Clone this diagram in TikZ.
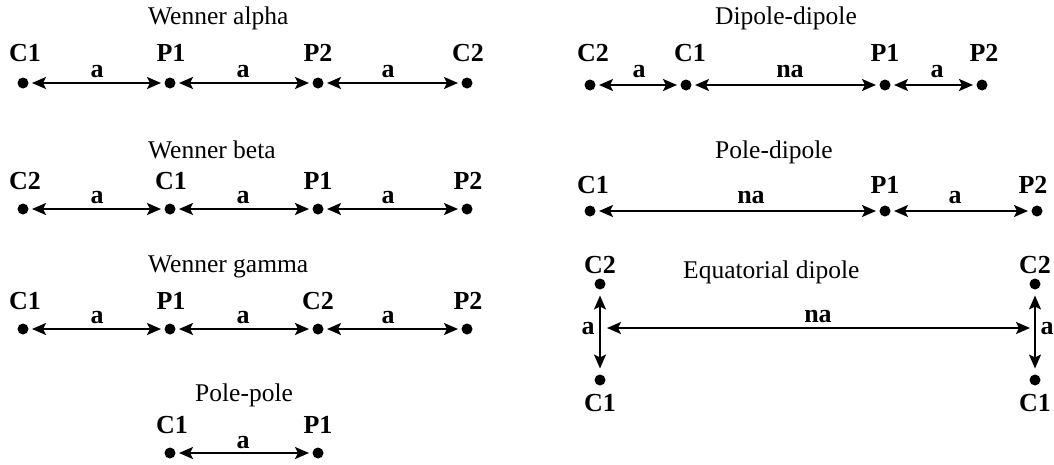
\documentclass[tikz,border=0pt]{standalone}
\usepackage{fontspec}
\setmainfont{Liberation Serif}
\usetikzlibrary{arrows.meta}
\tikzset{
  dot/.style={circle,fill=black,inner sep=0pt,minimum size=11pt,outer sep=0pt},
  elab/.style={font=\fontsize{26}{30}\selectfont\bfseries,anchor=base,inner sep=0pt},
  dlab/.style={font=\fontsize{26}{30}\selectfont\bfseries,anchor=base,inner sep=0pt},
  ttl/.style={font=\fontsize{25.5}{30}\selectfont,anchor=west,inner sep=0pt},
  dim/.style={line width=2pt,{Stealth[length=14pt,width=12pt,inset=3pt]}-{Stealth[length=14pt,width=12pt,inset=3pt]},shorten <=3.5pt,shorten >=3.5pt},
}
\begin{document}
\begin{tikzpicture}[x=1pt,y=-1pt]
\useasboundingbox[fill=white] (0,0) rectangle (1054,464);
% ---------- Wenner alpha
\node[ttl] (t1) at (148,18) {Wenner alpha};
\node[dot] (a1) at (23,83) {};
\node[dot] (a2) at (170,83) {};
\node[dot] (a3) at (318,83) {};
\node[dot] (a4) at (467,83) {};
\node[elab] (la1) at (25,61) {C1};
\node[elab] (la2) at (171,61) {P1};
\node[elab] (la3) at (318,61) {P2};
\node[elab] (la4) at (468,61) {C2};
\draw[dim] (a1) -- (a2);
\draw[dim] (a2) -- (a3);
\draw[dim] (a3) -- (a4);
\node[dlab] (da1) at (97,77) {a};
\node[dlab] (da2) at (243,77) {a};
\node[dlab] (da3) at (388,77) {a};
% ---------- Wenner beta
\node[ttl] (t2) at (148,150) {Wenner beta};
\node[dot] (b1) at (23,209) {};
\node[dot] (b2) at (170,209) {};
\node[dot] (b3) at (318,209) {};
\node[dot] (b4) at (467,209) {};
\node[elab] (lb1) at (25,189) {C2};
\node[elab] (lb2) at (171,189) {C1};
\node[elab] (lb3) at (318,189) {P1};
\node[elab] (lb4) at (468,189) {P2};
\draw[dim] (b1) -- (b2);
\draw[dim] (b2) -- (b3);
\draw[dim] (b3) -- (b4);
\node[dlab] (db1) at (97,203) {a};
\node[dlab] (db2) at (243,203) {a};
\node[dlab] (db3) at (388,203) {a};
% ---------- Wenner gamma
\node[ttl] (t3) at (148,267) {Wenner gamma};
\node[dot] (g1) at (23,329) {};
\node[dot] (g2) at (170,329) {};
\node[dot] (g3) at (318,329) {};
\node[dot] (g4) at (467,329) {};
\node[elab] (lg1) at (25,309) {C1};
\node[elab] (lg2) at (171,309) {P1};
\node[elab] (lg3) at (318,309) {C2};
\node[elab] (lg4) at (468,309) {P2};
\draw[dim] (g1) -- (g2);
\draw[dim] (g2) -- (g3);
\draw[dim] (g3) -- (g4);
\node[dlab] (dg1) at (97,323) {a};
\node[dlab] (dg2) at (243,323) {a};
\node[dlab] (dg3) at (388,323) {a};
% ---------- Pole-pole
\node[ttl] (t4) at (195,395) {Pole-pole};
\node[dot] (p1) at (170,453) {};
\node[dot] (p2) at (318,453) {};
\node[elab] (lp1) at (172,433) {C1};
\node[elab] (lp2) at (318,433) {P1};
\draw[dim] (p1) -- (p2);
\node[dlab] (dp1) at (243,448) {a};
% ---------- Dipole-dipole
\node[ttl] (t5) at (715,18) {Dipole-dipole};
\node[dot] (d1) at (590,85) {};
\node[dot] (d2) at (686,85) {};
\node[dot] (d3) at (885,85) {};
\node[dot] (d4) at (982,85) {};
\node[elab] (ld1) at (593,61) {C2};
\node[elab] (ld2) at (690,61) {C1};
\node[elab] (ld3) at (885,61) {P1};
\node[elab] (ld4) at (984,61) {P2};
\draw[dim] (d1) -- (d2);
\draw[dim] (d2) -- (d3);
\draw[dim] (d3) -- (d4);
\node[dlab] (dd1) at (639,77) {a};
\node[dlab] (dd2) at (790,77) {na};
\node[dlab] (dd3) at (937,77) {a};
% ---------- Pole-dipole
\node[ttl] (t6) at (715,152) {Pole-dipole};
\node[dot] (q1) at (590,211) {};
\node[dot] (q2) at (885,211) {};
\node[dot] (q3) at (1037,211) {};
\node[elab] (lq1) at (593,193) {C1};
\node[elab] (lq2) at (885,193) {P1};
\node[elab] (lq3) at (1033,193) {P2};
\draw[dim] (q1) -- (q2);
\draw[dim] (q2) -- (q3);
\node[dlab] (dq1) at (751,203) {na};
\node[dlab] (dq2) at (955,203) {a};
% ---------- Equatorial dipole
\node[ttl] (t7) at (683,272) {Equatorial dipole};
\node[dot] (e1) at (600,284) {};
\node[dot] (e2) at (600,380) {};
\node[dot] (e3) at (1035,284) {};
\node[dot] (e4) at (1035,380) {};
\node[elab] (le1) at (600,273) {C2};
\node[elab] (le2) at (600,411) {C1};
\node[elab] (le3) at (1035,273) {C2};
\node[elab] (le4) at (1035,411) {C1};
\draw[dim,shorten <=6pt,shorten >=6pt] (e1) -- (e2);
\draw[dim,shorten <=6pt,shorten >=6pt] (e3) -- (e4);
\coordinate (em1) at (600,328);
\coordinate (em2) at (1035,328);
\draw[dim,shorten <=7pt,shorten >=5pt] (em1) -- (em2);
\node[dlab] (de1) at (588,334) {a};
\node[dlab] (de2) at (1047,334) {a};
\node[dlab] (de3) at (818,322) {na};
\end{tikzpicture}
\end{document}
